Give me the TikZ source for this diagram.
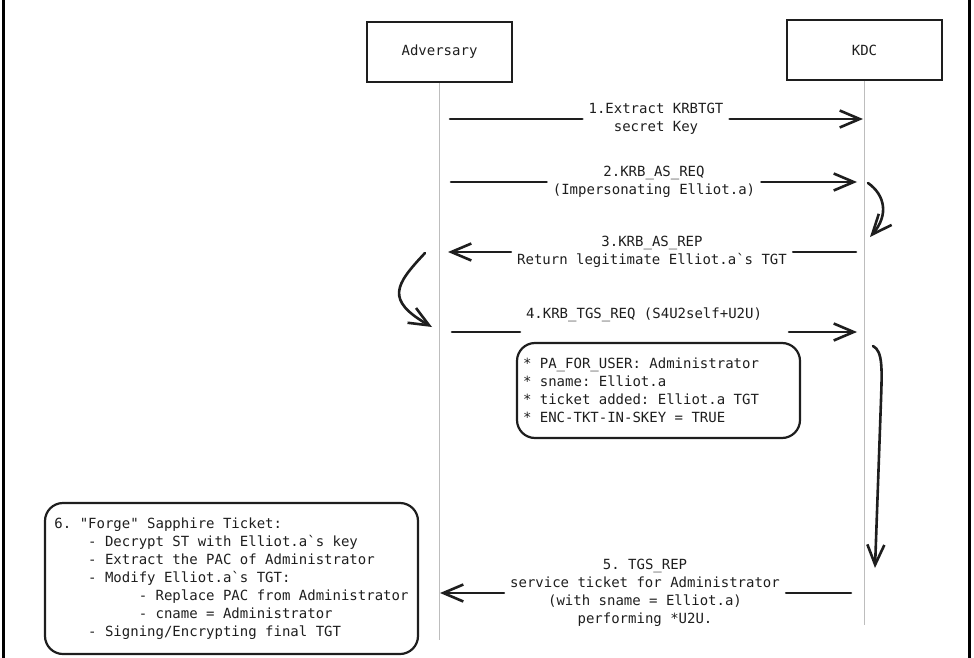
\documentclass[tikz,border=0pt]{standalone}
\usepackage{fontspec}
\setmonofont{DejaVu Sans Mono}
\usetikzlibrary{arrows.meta}

\definecolor{ink}{HTML}{1E1E1E}
\definecolor{lifegray}{HTML}{BDBDBD}
\newcommand{\pad}[1]{\hspace*{#1\fontcharwd\font`0}}

\begin{document}
\begin{tikzpicture}[x=1pt, y=-1pt,
    every node/.style={font=\ttfamily\fontsize{14}{18}\selectfont, text=ink},
    actor/.style={draw=ink, line width=2.8pt, minimum height=60pt},
    lbl/.style={align=center, inner xsep=6pt, inner ysep=2pt},
    note/.style={draw=ink, line width=2.2pt, rounded corners=18pt},
    life/.style={draw=lifegray, line width=1.4pt},
    msg/.style={draw=ink, line width=2.6pt, line cap=round},
    arr/.style={msg, -{Straight Barb[length=20pt, width=17pt]}},
    frame/.style={draw=black, line width=3pt}
]
\useasboundingbox (0,0) rectangle (974,658);
\draw[frame] (3,0) -- (3,658);
\draw[frame] (969.5,0) -- (969.5,658);

\node[actor, minimum width=145pt] (adv) at (439.5,52) {Adversary};
\node[actor, minimum width=155pt] (kdc) at (864.5,50) {KDC};
\coordinate (advEnd) at (439.5,640);
\coordinate (kdcEnd) at (864.5,625);
\draw[life] (adv) -- (advEnd);
\draw[life] (kdc) -- (kdcEnd);

\coordinate (m1a) at (450,119);
\coordinate (m1b) at (863,119);
\node[lbl] (t1) at (656,119) {1.Extract KRBTGT\\secret Key};
\draw[msg] (m1a) -- (t1);
\draw[arr] (t1) -- (m1b);

\coordinate (m2a) at (451,182);
\coordinate (m2b) at (857,182);
\node[lbl] (t2) at (654,182) {2.KRB\_AS\_REQ\\(Impersonating Elliot.a)};
\draw[msg] (m2a) -- (t2);
\draw[arr] (t2) -- (m2b);

\coordinate (c2a) at (868,183);
\coordinate (c2b) at (870,237);
\draw[arr] (c2a) .. controls (885,195) and (889,215) .. (c2b);

\coordinate (m3a) at (856,252);
\coordinate (m3b) at (448,252);
\node[lbl] (t3) at (652,252) {3.KRB\_AS\_REP\\Return legitimate Elliot.a\textasciigrave s TGT};
\draw[msg] (m3a) -- (t3);
\draw[arr] (t3) -- (m3b);

\coordinate (c3a) at (425,253);
\coordinate (c3b) at (432,327);
\draw[arr] (c3a) .. controls (395,285) and (385,300) .. (c3b);

\coordinate (m4a) at (452,332);
\coordinate (g4a) at (520,332);
\coordinate (g4b) at (789,332);
\coordinate (m4b) at (857,332);
\node (t4) at (644,315) {4.KRB\_TGS\_REQ (S4U2self+U2U)};
\draw[msg] (m4a) -- (g4a);
\draw[arr] (g4b) -- (m4b);

\node[note, minimum width=283pt, minimum height=95pt, text width=271pt, inner sep=6pt, align=flush left] (req) at (658.5,390.5)
  {{*} PA\_FOR\_USER: Administrator\\{*} sname: Elliot.a\\{*} ticket added: Elliot.a TGT\\{*} ENC-TKT-IN-SKEY = TRUE};

\coordinate (c4a) at (873,346);
\coordinate (c4b) at (875,568);
\draw[arr] (c4a) .. controls (883,351) and (882,370) .. (881,400) -- (c4b);

\coordinate (m5a) at (851,593);
\coordinate (m5b) at (440,593);
\node[lbl] (t5) at (645,593) {5. TGS\_REP\\service ticket for Administrator\\(with sname = Elliot.a)\\performing *U2U.};
\draw[msg] (m5a) -- (t5);
\draw[arr] (t5) -- (m5b);

\node[note, minimum width=373pt, minimum height=151pt, align=left] (forge) at (231.5,578.5)
  {6. "Forge" Sapphire Ticket:\\
   \pad{4}- Decrypt ST with Elliot.a\textasciigrave s key\\
   \pad{4}- Extract the PAC of Administrator\\
   \pad{4}- Modify Elliot.a\textasciigrave s TGT:\\
   \pad{10}- Replace PAC from Administrator\\
   \pad{10}- cname = Administrator\\
   \pad{4}- Signing/Encrypting final TGT};
\end{tikzpicture}
\end{document}
